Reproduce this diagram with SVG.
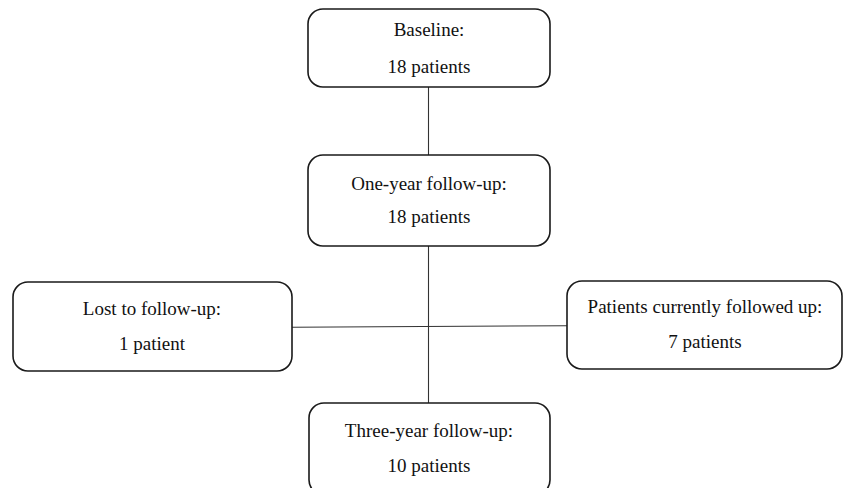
<svg xmlns="http://www.w3.org/2000/svg" width="844" height="488" viewBox="0 0 844 488">
<style>
.box{fill:#fff;stroke:#1a1a1a;stroke-width:1.6}
.t{font-family:"Liberation Serif","Times New Roman",serif;font-size:19px;fill:#111;text-anchor:middle}
.c{stroke:#333;stroke-width:1.1;fill:none}
</style>
<rect width="844" height="488" fill="#fff"/>
<g id="connectors">
<line class="c" x1="428.5" y1="87" x2="428.5" y2="155"/>
<line class="c" x1="428.5" y1="246" x2="428.5" y2="403"/>
<line class="c" x1="292" y1="327.3" x2="567" y2="325.7"/>
</g>
<g id="baseline">
<rect class="box" x="308" y="9" width="242" height="78" rx="15"/>
<text class="t" x="429" y="36">Baseline:</text>
<text class="t" x="429" y="73">18 patients</text>
</g>
<g id="oneyear">
<rect class="box" x="308" y="155" width="242" height="91" rx="15"/>
<text class="t" x="429" y="190">One-year follow-up:</text>
<text class="t" x="429" y="223">18 patients</text>
</g>
<g id="lost">
<rect class="box" x="13" y="282" width="279" height="89" rx="15"/>
<text class="t" x="152" y="315">Lost to follow-up:</text>
<text class="t" x="152" y="350">1 patient</text>
</g>
<g id="current">
<rect class="box" x="567" y="281" width="275" height="88" rx="15"/>
<text class="t" x="705" y="313">Patients currently followed up:</text>
<text class="t" x="705" y="348">7 patients</text>
</g>
<g id="threeyear">
<rect class="box" x="309" y="403" width="241" height="92" rx="15"/>
<text class="t" x="429" y="437">Three-year follow-up:</text>
<text class="t" x="429" y="472">10 patients</text>
</g>
</svg>
